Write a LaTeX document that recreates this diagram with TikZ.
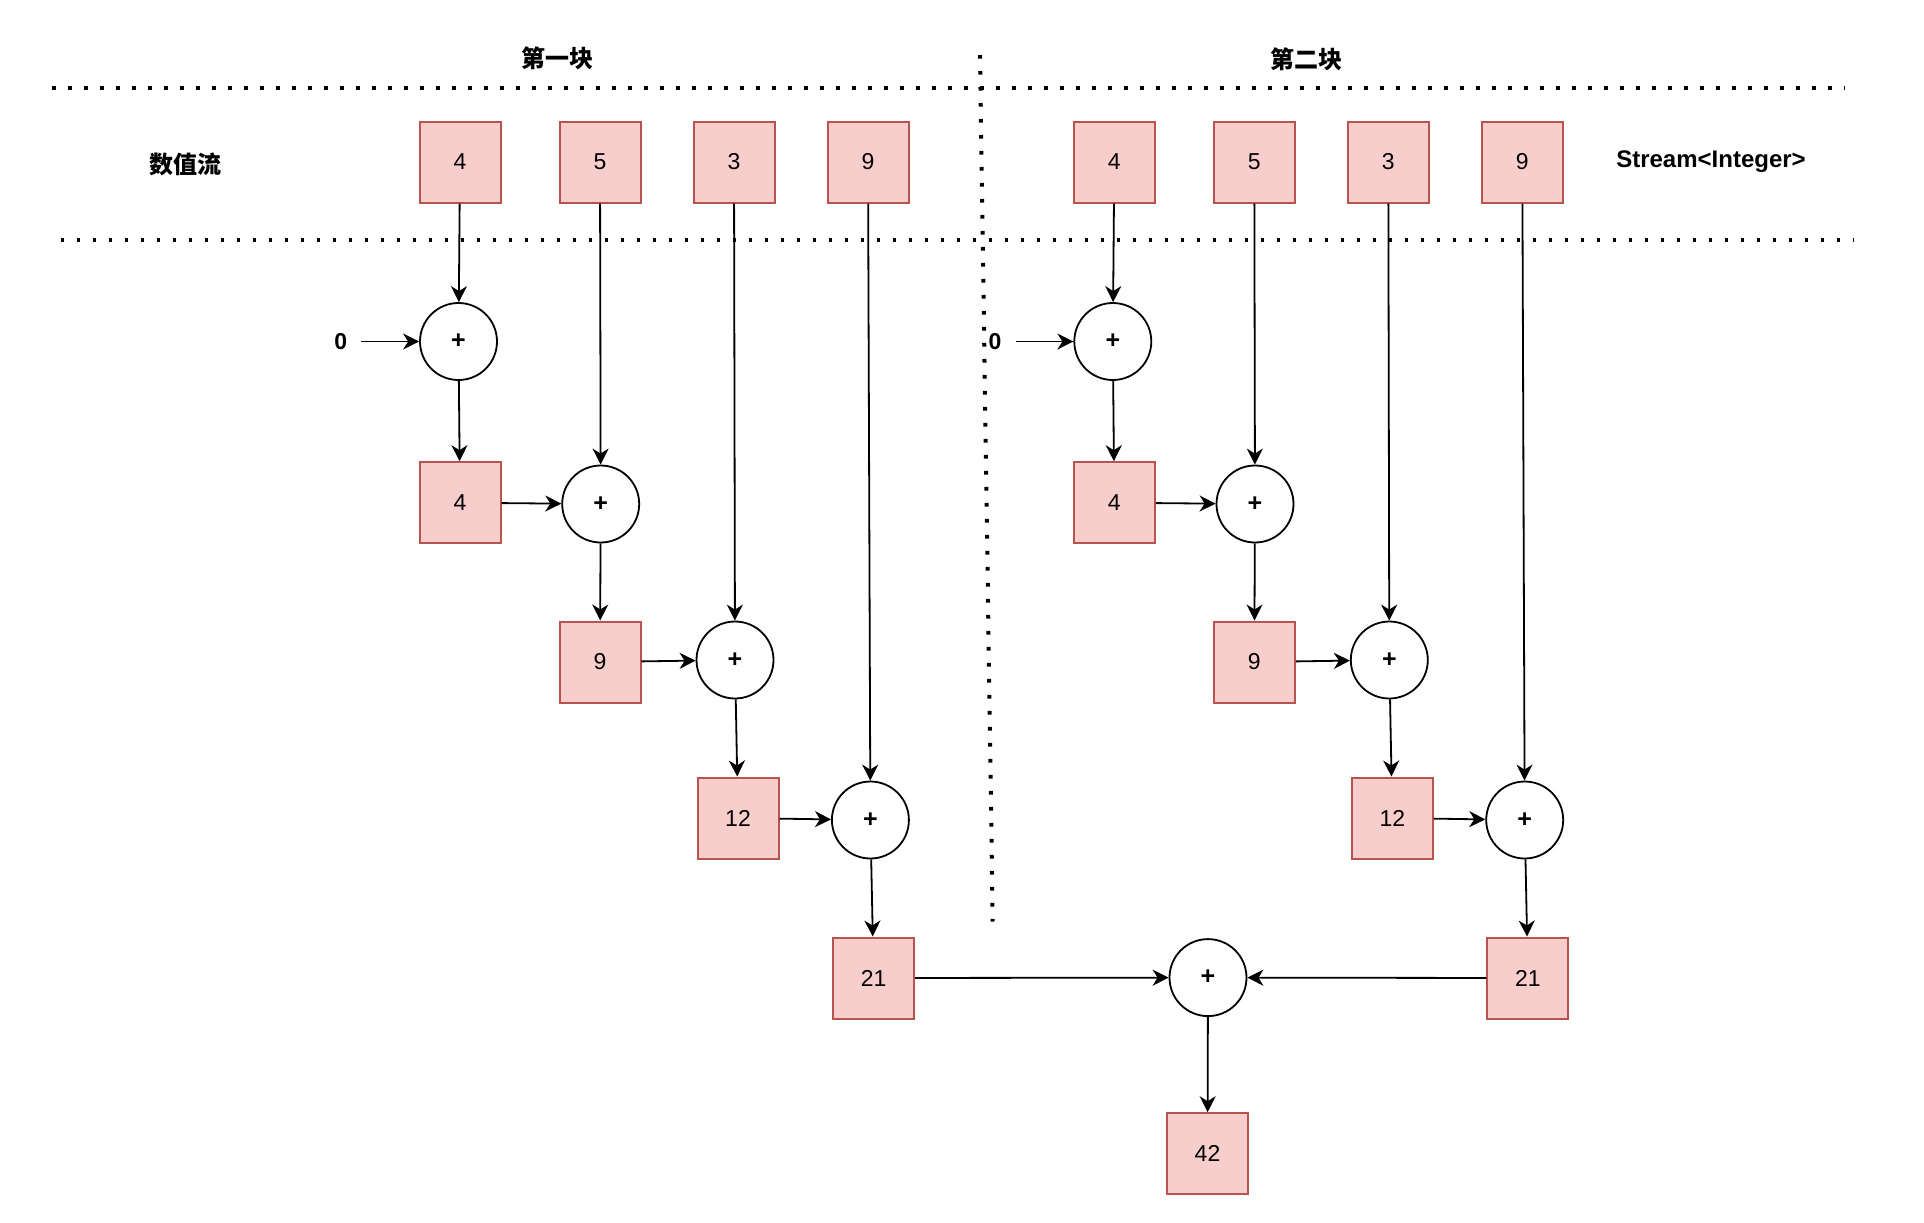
\documentclass[tikz,border=0pt]{standalone}
\usepackage{fontspec}
\setmainfont{Liberation Sans}
\newfontfamily\cjk{Noto Sans CJK SC}
\usetikzlibrary{arrows.meta}
\definecolor{cellfill}{HTML}{F8CECC}
\definecolor{cellline}{HTML}{B85450}

\NewDocumentCommand{\sumblock}{mm}{%
\begin{scope}[shift={(#2,0)}]%
\node[cell] (#1t1) at (460,162) {4};%
\node[cell] (#1t2) at (600,162) {5};%
\node[cell] (#1t3) at (734,162) {3};%
\node[cell] (#1t4) at (868,162) {9};%
\node[zero] (#1z) at (340.7,341.5) {0};%
\node[plus] (#1p1) at (458.5,341.5) {+};%
\node[cell] (#1s1) at (460,502.7) {4};%
\node[plus] (#1p2) at (600.7,504) {+};%
\node[cell] (#1s2) at (600,662) {9};%
\node[plus] (#1p3) at (735,660) {+};%
\node[cell] (#1s3) at (738,818) {12};%
\node[plus] (#1p4) at (870.4,820) {+};%
\node[cell] (#1s4) at (873.6,978) {21};%
\draw[flow] (#1z) -- (#1p1);%
\draw[flow] (#1t1) -- (#1p1);%
\draw[flow] (#1p1) -- (#1s1);%
\draw[flow] (#1s1) -- (#1p2);%
\draw[flow] (#1t2) -- (#1p2);%
\draw[flow] (#1p2) -- (#1s2);%
\draw[flow] (#1s2) -- (#1p3);%
\draw[flow] (#1t3) -- (#1p3);%
\draw[flow] (#1p3) -- (#1s3);%
\draw[flow] (#1s3) -- (#1p4);%
\draw[flow] (#1t4) -- (#1p4);%
\draw[flow] (#1p4) -- (#1s4);%
\end{scope}%
}

\begin{document}
\begin{tikzpicture}[x=0.5pt,y=-0.5pt,
    cell/.style={draw=cellline,fill=cellfill,line width=1pt,minimum size=40.5pt,
        inner sep=0pt,font=\fontsize{11.5}{13}\selectfont},
    plus/.style={draw,circle,line width=0.9pt,minimum size=38.5pt,inner sep=0pt,
        font=\bfseries\fontsize{12.5}{14}\selectfont},
    zero/.style={inner xsep=7pt,font=\bfseries\fontsize{11.5}{13}\selectfont},
    flow/.style={-{Stealth[length=8pt,width=8pt,inset=2.5pt]},line width=0.9pt},
    sep/.style={line width=2pt,dash pattern=on 1.8pt off 6.2pt},
    lbl/.style={font=\bfseries\fontsize{12}{14}\selectfont}]
    \useasboundingbox (0,0) rectangle (1924,1222);

    \draw[sep] (52,87.5) -- (1845,87.5);
    \draw[sep] (60.6,240) -- (1853,240);
    \draw[sep] (980,55) -- (992.7,921.5);

    \node[lbl] (head1) at (557,58.5) {\cjk 第一块};
    \node[lbl] (head2) at (1306.7,59.3) {\cjk 第二块};
    \node[lbl] (stream) at (185,164) {\cjk 数值流};
    \node[lbl] (type) at (1711,161.7) {Stream<Integer>};

    \sumblock{a}{0}
    \sumblock{b}{654.3}

    \node[plus] (total) at (1208,977.6) {+};
    \node[cell] (result) at (1207.5,1153.7) {42};
    \draw[flow] (as4) -- (total);
    \draw[flow] (bs4) -- (total);
    \draw[flow] (total) -- (result);
\end{tikzpicture}
\end{document}
